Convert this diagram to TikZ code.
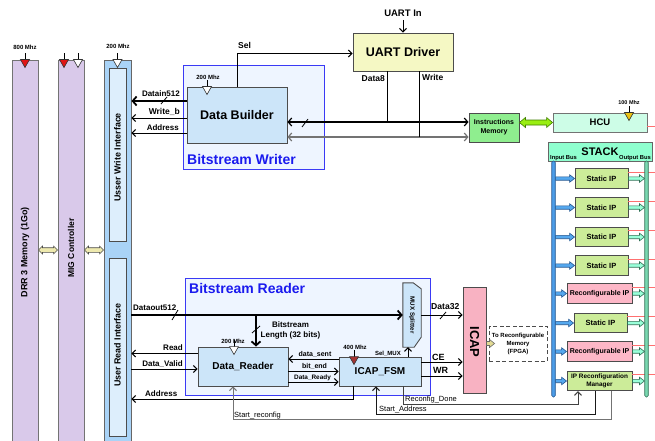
\documentclass[tikz,border=0pt]{standalone}
\usepackage{fontspec}
\setmainfont{Liberation Sans}
\usetikzlibrary{arrows.meta,calc}
\definecolor{purp}{HTML}{D9C9EA}
\definecolor{uiblue}{HTML}{A9D3F7}
\definecolor{uilight}{HTML}{DDEEFC}
\definecolor{framefill}{HTML}{EEF5FF}
\definecolor{frameblue}{HTML}{3A3AF5}
\definecolor{labblue}{HTML}{1A1AEE}
\definecolor{dbfill}{HTML}{CCE5F9}
\definecolor{uartfill}{HTML}{F5F8C4}
\definecolor{imfill}{HTML}{8FEE8F}
\definecolor{hcufill}{HTML}{CDFDE7}
\definecolor{stackfill}{HTML}{8FFFCF}
\definecolor{sipfill}{HTML}{CCEC99}
\definecolor{ripfill}{HTML}{FDB7C7}
\definecolor{icapfill}{HTML}{F8B2C2}
\definecolor{yelarr}{HTML}{EEE9AE}
\definecolor{limearr}{HTML}{99EE11}
\definecolor{limebord}{HTML}{3F7F00}
\definecolor{bluearr}{HTML}{55A8EE}
\definecolor{bluebord}{HTML}{22558F}
\definecolor{mintarr}{HTML}{99FFD9}
\definecolor{mintbord}{HTML}{2F6F55}
\definecolor{inbusc}{HTML}{4C9DE8}
\definecolor{outbusc}{HTML}{79D8B0}
\definecolor{memyel}{HTML}{E3DB94}
\definecolor{redl}{HTML}{FF7070}
\definecolor{clkred}{HTML}{E01515}
\definecolor{clkdark}{HTML}{A33333}
\definecolor{clkyel}{HTML}{EBC114}
\newcommand\fz[2]{\fontsize{#1}{#2}\selectfont}
% clock marker: #1 point on top edge, #2 fill
\newcommand\clk[2]{%
  \draw[line width=0.8pt] #1 -- ++(0,-7);
  \filldraw[fill=#2, draw=black!80, line width=0.6pt] #1 ++(-4.5,0) -- ++(9,0) -- ++(-4.5,8) -- cycle;}
% right block arrow: start, end, fill, border, shaft half, head half
\newcommand\rarr[6]{%
  \path[draw=#4, fill=#3, line width=0.6pt] let \p1=#1, \p2=#2 in
    (\x1,\y1+#5) -- (\x2-5pt,\y1+#5) -- (\x2-5pt,\y1+#6) -- (\x2,\y1) --
    (\x2-5pt,\y1-#6) -- (\x2-5pt,\y1-#5) -- (\x1,\y1-#5) -- cycle;}
% double block arrow: start, end, fill, border, shaft half, head half, head length
\newcommand\darr[7]{%
  \path[draw=#4, fill=#3, line width=0.6pt] let \p1=#1, \p2=#2 in
    (\x1,\y1) -- (\x1+#7,\y1+#6) -- (\x1+#7,\y1+#5) -- (\x2-#7,\y1+#5) --
    (\x2-#7,\y1+#6) -- (\x2,\y1) -- (\x2-#7,\y1-#6) -- (\x2-#7,\y1-#5) --
    (\x1+#7,\y1-#5) -- (\x1+#7,\y1-#6) -- cycle;}
\begin{document}
\begin{tikzpicture}[x=1pt,y=-1pt,
  blk/.style={draw=black!70, line width=0.9pt, inner sep=0pt, align=center},
  col/.style={draw=black!55, line width=0.9pt, inner sep=0pt},
  frame/.style={draw=frameblue, line width=1pt, fill=framefill, inner sep=0pt},
  lbl/.style={inner sep=0pt, font=\bfseries\fz{8}{9.6}},
  mhz/.style={inner sep=0pt, font=\bfseries\fz{6}{7}, anchor=base},
  sig/.style={inner sep=0pt, font=\fz{7.5}{9}, anchor=base west},
  arr/.style={line width=1pt, -{Straight Barb[length=3.5pt,width=7pt,line width=1pt]}},
  thickarr/.style={line width=2.8pt, -{Straight Barb[length=4pt,width=9pt,line width=1.8pt]}},
  bidir/.style={line width=1.2pt, {Straight Barb[length=3.5pt,width=8pt,line width=1.2pt]}-{Straight Barb[length=3.5pt,width=8pt,line width=1.2pt]}},
  sip/.style={blk, fill=sipfill, minimum width=53pt, minimum height=19.5pt, font=\bfseries\fz{7.5}{9}},
  rip/.style={blk, fill=ripfill, minimum width=65pt, minimum height=19.5pt, font=\bfseries\fz{7}{8.5}},
  redline/.style={draw=redl, line width=0.7pt},
  slash/.style={line width=0.8pt}]
\useasboundingbox (0,0) rectangle (655,441);
\fill[white] (0,0) rectangle (655,441);

% ---------------- left columns ----------------
\node[col, fill=purp, minimum width=26pt, minimum height=386pt] (drr) at (25,253) {};
\node[rotate=90, font=\bfseries\fz{9}{10}] (drrt) at (25,252) {DRR 3 Memory (1Go)};
\node[col, fill=purp, minimum width=26pt, minimum height=386pt] (mig) at (71,253) {};
\node[rotate=90, font=\bfseries\fz{8.5}{10}] (migt) at (71,248) {MIG Controller};
\node[col, draw=black!60, fill=uiblue, minimum width=27pt, minimum height=386pt] (ui) at (117.5,253) {};
\node[blk, fill=uilight, minimum width=17pt, minimum height=173pt] (uwi) at (117.5,154.5) {};
\node[rotate=90, font=\bfseries\fz{8.9}{10}] (uwit) at (117.5,157.5) {Usser Write Interface};
\node[blk, fill=uilight, minimum width=17pt, minimum height=178pt] (uri) at (117.5,347) {};
\node[rotate=90, font=\bfseries\fz{8.9}{10}] (urit) at (117.5,345) {User Read Interface};

\clk{(drr.north)}{clkred}
\node[mhz] (drrm) at (25,49.5) {800 Mhz};
\clk{([xshift=-7pt]mig.north)}{clkred}
\clk{([xshift=7pt]mig.north)}{white}
\clk{(ui.north)}{white}
\node[mhz] (uim) at (118,49) {200 Mhz};

\darr{(drr.east |- 0,250)}{(mig.west |- 0,250)}{yelarr}{black!70}{2.3pt}{4pt}{4pt}
\darr{(mig.east |- 0,250)}{(ui.west |- 0,250)}{yelarr}{black!70}{2.3pt}{4pt}{4pt}

% ---------------- Bitstream Writer ----------------
\node[frame, minimum width=141pt, minimum height=103pt] (bw) at (253.5,117.5) {};
\node[anchor=base west, inner sep=0pt, text=labblue, font=\bfseries\fz{14}{16}] (bwt) at (187,164) {Bitstream Writer};
\node[blk, fill=dbfill, minimum width=100pt, minimum height=56pt, font=\bfseries\fz{12.5}{14}] (db) at (237,115) {Data Builder};
\clk{([xshift=-30pt]db.north)}{white}
\node[mhz] (dbm) at (208,79.5) {200 Mhz};

% ---------------- UART / IM / HCU ----------------
\node[blk, fill=uartfill, minimum width=100pt, minimum height=38pt, font=\bfseries\fz{12.5}{14}] (uart) at (403,52) {UART Driver};
\node[blk, fill=imfill, minimum width=50pt, minimum height=29pt, font=\bfseries\fz{7}{9}] (im) at (494,127.5) {Instructions\\Memory};
\node[blk, draw=black!55, fill=hcufill, minimum width=94pt, minimum height=19pt, font=\bfseries\fz{9.5}{11}] (hcu) at (600,122.5) {HCU};
\clk{([xshift=29pt]hcu.north)}{clkyel}
\node[mhz, font=\bfseries\fz{5.5}{6.5}] (hcum) at (629,104) {100 Mhz};

\coordinate (uin) at (403,20);
\node[inner sep=0pt, anchor=base, font=\bfseries\fz{9.5}{11}] (uinl) at (403,17) {UART In};
\draw[arr] (uin) -- (uart.north);

\coordinate (uartS) at ([yshift=-1.5pt]uart.west);
\draw[arr] (db.north) |- (uartS);
\node[lbl, font=\bfseries\fz{8.5}{10}, anchor=base west] (sell) at (238,48.5) {Sel};

\coordinate (dbA) at ([yshift=14pt]db.west);
\coordinate (dbB) at ([yshift=-3pt]db.west);
\coordinate (dbC) at ([yshift=-18pt]db.west);
\draw[thickarr] (dbA) -- (dbA -| ui.east);
\draw[arr] (dbB) -- (dbB -| ui.east);
\draw[arr] (dbC) -- (dbC -| ui.east);
\draw[slash] (161,104) -- (167,97);
\node[lbl, anchor=base east] (l1) at (180,96) {Datain512};
\node[lbl, font=\bfseries\fz{8.5}{10}, anchor=base east] (l2) at (180,114) {Write\_b};
\node[lbl, anchor=base east] (l3) at (179,130.5) {Address};

\coordinate (busA) at ([yshift=-7pt]db.east);
\coordinate (busB) at ([yshift=-22pt]db.east);
\draw[bidir] (busA) -- (busA -| im.west);
\draw[bidir, draw=black!55] (busB) -- (busB -| im.west);
\draw[slash] (302,127) -- (308,119);
\coordinate (uartA) at ([xshift=-16pt]uart.south);
\coordinate (uartB) at ([xshift=16pt]uart.south);
\draw[line width=1pt] (uartA) -- (uartA |- busA);
\draw[line width=1pt] (uartB) -- (uartB |- busB);
\node[lbl, font=\bfseries\fz{8.5}{10}, anchor=base east] (d8) at (385,81.5) {Data8};
\node[lbl, font=\bfseries\fz{8.5}{10}, anchor=base west] (wr8) at (422,81) {Write};

\darr{(im.east |- hcu.west)}{(hcu.west)}{limearr}{limebord}{2.5pt}{5pt}{6pt}
\coordinate (hcuR) at ([yshift=-3.5pt]hcu.east);
\draw[redline] (hcuR) -- ++(20,0);

% ---------------- STACK ----------------
\node[blk, draw=black!60, fill=stackfill, minimum width=104pt, minimum height=19pt, font=\bfseries\fz{11}{12}] (stack) at (600,151.5) {STACK};
\node[inner sep=0pt, anchor=base west, font=\bfseries\fz{5.8}{7}] (inl) at (550,159.5) {Input Bus};
\node[inner sep=0pt, anchor=base east, font=\bfseries\fz{5.8}{7}] (outl) at (651,159.5) {Output Bus};

\node[sip] (s1) at (601.5,178.5) {Static IP};
\node[sip] (s2) at (601.5,207.5) {Static IP};
\node[sip] (s3) at (601.5,237) {Static IP};
\node[sip] (s4) at (601.5,265.5) {Static IP};
\node[rip] (r1) at (599.5,293.5) {Reconfigurable IP};
\node[sip] (s5) at (600.5,323) {Static IP};
\node[rip] (r2) at (599.5,351.5) {Reconfigurable IP};
\node[rip, fill=sipfill, font=\bfseries\fz{6.4}{8}] (mgr) at (599.5,381) {IP Reconfiguration\\Manager};

\foreach \b in {s1,s2,s3,s4,r1,s5,r2,mgr}{
  \draw[redline] ([yshift=-4pt]\b.north east) -- ++(40,0);
}
\node[draw=bluebord, line width=0.6pt, fill=inbusc, rounded corners=1.5pt, minimum width=3.5pt, minimum height=236pt, inner sep=0pt] (inbus) at (553.5,279) {};
\node[draw=mintbord, line width=0.6pt, fill=outbusc, rounded corners=1.5pt, minimum width=3.5pt, minimum height=236pt, inner sep=0pt] (outbus) at (646.5,279) {};
\foreach \b in {s1,s2,s3,s4,r1,s5,r2,mgr}{
  \rarr{(inbus.east |- \b.west)}{(\b.west)}{bluearr}{bluebord}{1.7pt}{3.8pt}
  \rarr{(\b.east)}{(\b.east -| outbus.west)}{mintarr}{mintbord}{1.7pt}{3.8pt}
}

% ---------------- Bitstream Reader ----------------
\node[frame, minimum width=245pt, minimum height=117pt] (br) at (307.5,336.5) {};
\node[anchor=base west, inner sep=0pt, text=labblue, font=\bfseries\fz{14}{16}] (brt) at (189,293) {Bitstream Reader};
\node[blk, fill=dbfill, minimum width=90pt, minimum height=39pt, font=\bfseries\fz{10}{12}] (dr) at (243,366.5) {Data\_Reader};
\node[blk, fill=dbfill, minimum width=82pt, minimum height=29pt, font=\bfseries\fz{10}{12}] (fsm) at (380,371.5) {ICAP\_FSM};
\node[inner sep=0pt, minimum width=18pt, minimum height=64pt] (mux) at (412,315) {};
\filldraw[fill=dbfill, draw=black!70, line width=0.9pt] (mux.north west) -- ([xshift=-8pt]mux.north east) -- ([yshift=-6pt]mux.north east) -- ([yshift=10pt]mux.south east) -- ([xshift=-7pt]mux.south east) -- (mux.south west) -- cycle;
\node[rotate=-90, font=\bfseries\fz{6.2}{7}] (muxt) at (mux.center) {MUX Splitter};
\node[blk, fill=icapfill, minimum width=23pt, minimum height=106pt] (icap) at (474.5,340) {};
\node[rotate=-90, font=\bfseries\fz{13}{14}] (icapt) at (474.5,342) {ICAP};
\node[blk, dash pattern=on 4pt off 2.5pt, fill=white, minimum width=58pt, minimum height=35pt, font=\bfseries\fz{6}{8}] (tomem) at (518,343.5) {To Reconfigurable\\Memory\\(FPGA)};

\clk{([xshift=-9pt]dr.north)}{white}
\node[mhz] (drm) at (233,343) {200 Mhz};
\clk{([xshift=-26pt]fsm.north)}{clkdark}
\node[mhz] (fsmm) at (355,349) {400 Mhz};

% Dataout512
\draw[thickarr] (ui.east |- mux.west) -- (mux.west);
\draw[slash] (172,320) -- (178,310);
\node[lbl, anchor=base west] (dol) at (133,310) {Dataout512};
% Bitstream length
\coordinate (drL) at ([xshift=13pt]dr.north);
\draw[thickarr] (drL |- mux.west) -- (drL);
\draw[slash] (252,333) -- (260,326);
\node[lbl, align=center, font=\bfseries\fz{8}{10}] (bll) at (290.5,330) {Bitstream\\Length (32 bits)};
% Read / Data_Valid
\coordinate (drR) at ([yshift=13pt]dr.west);
\coordinate (drV) at ([yshift=-2.5pt]dr.west);
\draw[arr] (drR) -- (drR -| ui.east);
\draw[arr] (drV -| ui.east) -- (drV);
\node[lbl, anchor=base east] (readl) at (183,350) {Read};
\node[lbl, anchor=base east] (dvl) at (183,366) {Data\_Valid};
% FSM <-> reader
\coordinate (fsmDs) at ([yshift=12.5pt]fsm.west);
\coordinate (fsmDr) at ([yshift=-10.5pt]fsm.west);
\draw[arr] (fsmDs) -- (fsmDs -| dr.east);
\draw[arr] (fsm.west -| dr.east) -- (fsm.west);
\draw[arr] (fsmDr -| dr.east) -- (fsmDr);
\node[lbl, font=\bfseries\fz{7}{8}, anchor=base] (dsl) at (315,356.5) {data\_sent};
\node[lbl, font=\bfseries\fz{7}{8}, anchor=base] (bel) at (314.5,368.5) {bit\_end};
\node[lbl, font=\bfseries\fz{6.4}{8}, anchor=base] (drdl) at (312.5,379.5) {Data\_Ready};
% Sel_MUX
\coordinate (fsmMux) at ([xshift=28pt]fsm.north);
\draw[arr] (fsmMux) -- (fsmMux |- mux.south);
\node[lbl, font=\bfseries\fz{6}{7}, anchor=base east] (sml) at (401,355.5) {Sel\_MUX};
% Data32 / CE / WR
\draw[arr] (mux.east) -- (mux.east -| icap.west);
\draw[slash] (440,319) -- (446,312);
\node[lbl, font=\bfseries\fz{8.6}{10}, anchor=base west] (d32) at (431,309) {Data32};
\coordinate (fsmCE) at ([yshift=9.5pt]fsm.east);
\coordinate (fsmWR) at ([yshift=-4.5pt]fsm.east);
\draw[arr] (fsmCE) -- (fsmCE -| icap.west);
\draw[arr] (fsmWR) -- (fsmWR -| icap.west);
\node[lbl, font=\bfseries\fz{9}{10}, anchor=base west] (cel) at (432,360.5) {CE};
\node[lbl, font=\bfseries\fz{9}{10}, anchor=base west] (wrl) at (433,373.5) {WR};
\rarr{(icap.east |- tomem.west)}{([xshift=6pt]tomem.west)}{memyel}{black!60}{2pt}{4pt}

% bottom wiring
\coordinate (fsmAd) at ([xshift=-27pt]fsm.south);
\coordinate (fsmRd) at ([xshift=23pt]fsm.south);
\coordinate (fsmSa) at ([xshift=-4pt]fsm.south);
\coordinate (drS) at ([xshift=-10pt]dr.south);
\coordinate (mgrA) at ([xshift=-21.5pt]mgr.south);
\coordinate (mgrB) at ([xshift=-4.5pt]mgr.south);
\coordinate (mgrC) at ([xshift=11.5pt]mgr.south);
\draw[arr] (fsmAd) |- (ui.east |- 0,399);
\node[lbl, anchor=base west] (adl) at (145,396) {Address};
\draw[arr, draw=black!75] (fsmRd) |- (mgrA |- 0,404) -- (mgrA);
\node[sig] (rdl) at (405,401) {Reconfig\_Done};
\draw[arr, draw=black!90] (mgrB) |- (fsmSa |- 0,414) -- (fsmSa);
\node[sig] (sal) at (379,411.5) {Start\_Address};
\draw[arr, draw=black!55] (mgrC) |- (drS |- 0,419) -- (drS);
\node[sig] (srl) at (234,417) {Start\_reconfig};
\end{tikzpicture}
\end{document}
